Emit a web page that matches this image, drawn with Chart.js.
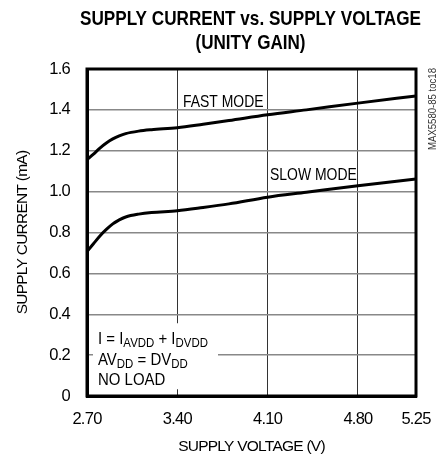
<!DOCTYPE html>
<html>
<head>
<meta charset="utf-8">
<script src="https://cdn.jsdelivr.net/npm/chart.js@4/dist/chart.umd.min.js"></script>
<style>
  html, body { margin: 0; padding: 0; background: #fff; }
  #chart { display: block; }
</style>
</head>
<body>
<canvas id="chart" width="440" height="457"></canvas>
<script>
const FONT = "'Liberation Sans', Arial, sans-serif";

// supply voltage (V)
const voltage = [2.70, 2.75, 2.80, 2.85, 2.90, 2.95, 3.00, 3.10, 3.20, 3.40, 3.60, 3.80, 4.10, 4.40, 4.80, 5.25];
// supply current (mA)
const fastMode = [1.156, 1.183, 1.213, 1.238, 1.258, 1.273, 1.284, 1.296, 1.303, 1.313, 1.330, 1.348, 1.376, 1.400, 1.433, 1.468];
const slowMode = [0.707, 0.745, 0.783, 0.815, 0.842, 0.862, 0.876, 0.890, 0.898, 0.906, 0.922, 0.940, 0.973, 0.997, 1.029, 1.062];

const xTicks = [2.70, 3.40, 4.10, 4.80, 5.25];
const yTicks = [0, 0.2, 0.4, 0.6, 0.8, 1.0, 1.2, 1.4, 1.6];

const toPoints = (vals) => voltage.map((v, i) => ({ x: v, y: vals[i] }));

// text squeezed sideways, to look like the narrow face of the original
const narrowText = (ctx, x, y, parts, squeeze) => {
  ctx.save();
  ctx.translate(x, y);
  ctx.scale(squeeze, 1);
  let cx = 0;
  parts.forEach(([txt, sub]) => {
    ctx.font = (sub ? '13px ' : '17px ') + FONT;
    ctx.fillText(txt, cx, sub ? 3 : 0);
    cx += ctx.measureText(txt).width;
  });
  ctx.restore();
};

const notes = {
  id: 'notes',
  beforeDraw(chart) {
    // tighter letters everywhere, the original uses a condensed face
    chart.ctx.letterSpacing = '-0.75px';
  },
  beforeDatasetsDraw(chart) {
    const { ctx, chartArea: a, scales: { y } } = chart;
    ctx.save();
    ctx.letterSpacing = '0px';
    // conditions box hides the grid behind it
    ctx.fillStyle = '#fff';
    ctx.fillRect(a.left + 6, y.getPixelForValue(0.4) + 9, 125, 66);
    ctx.fillStyle = '#000';
    ctx.textBaseline = 'alphabetic';
    const tx = a.left + 11;
    narrowText(ctx, tx, 344, [['I = I', false], ['AVDD', true], [' + I', false], ['DVDD', true]], 0.88);
    narrowText(ctx, tx, 364.5, [['AV', false], ['DD', true], [' = DV', false], ['DD', true]], 0.88);
    narrowText(ctx, tx, 385, [['NO LOAD', false]], 0.88);
    ctx.restore();
  },
  afterDatasetsDraw(chart) {
    const { ctx, chartArea: a } = chart;
    ctx.save();
    ctx.letterSpacing = '0px';
    // heavy frame
    ctx.strokeStyle = '#000';
    ctx.lineWidth = 3;
    ctx.strokeRect(a.left, a.top, a.right - a.left, a.bottom - a.top);
    ctx.fillStyle = '#000';
    narrowText(ctx, 183, 107, [['FAST MODE', false]], 0.82);
    narrowText(ctx, 270, 180, [['SLOW MODE', false]], 0.82);
    // title, condensed bold
    ctx.font = 'bold 21px ' + FONT;
    ctx.textAlign = 'center';
    ctx.fillText('SUPPLY CURRENT vs. SUPPLY VOLTAGE', 250.5, 25, 341);
    ctx.fillText('(UNITY GAIN)', 250.5, 49, 110);
    // part code, rotated on the right
    ctx.font = '11px ' + FONT;
    ctx.fillStyle = '#333';
    ctx.translate(433, 68);
    ctx.rotate(-Math.PI / 2);
    ctx.textAlign = 'right';
    ctx.textBaseline = 'middle';
    ctx.fillText('MAX5580-85 toc18', 0, 0, 82);
    ctx.restore();
  },
};

Chart.defaults.font.family = FONT;
Chart.defaults.color = '#000';

const chart = new Chart(document.getElementById('chart').getContext('2d'), {
  type: 'line',
  data: {
    datasets: [
      {
        label: 'FAST MODE',
        data: toPoints(fastMode),
        borderColor: '#000',
        borderWidth: 3,
        pointRadius: 0,
        cubicInterpolationMode: 'monotone',
        fill: false,
      },
      {
        label: 'SLOW MODE',
        data: toPoints(slowMode),
        borderColor: '#000',
        borderWidth: 3,
        pointRadius: 0,
        cubicInterpolationMode: 'monotone',
        fill: false,
      },
    ],
  },
  options: {
    responsive: false,
    animation: false,
    devicePixelRatio: 1,
    layout: { padding: { left: 0, right: 24, top: 69, bottom: 0 } },
    plugins: {
      legend: { display: false },
      tooltip: { enabled: false },
      title: { display: false },
    },
    scales: {
      x: {
        type: 'linear',
        min: 2.7,
        max: 5.25,
        afterBuildTicks: (s) => {
          s.ticks = xTicks.map((v) => ({ value: v }));
        },
        afterFit: (s) => {
          s.height = 61;
          s.paddingLeft = 0;
          s.paddingRight = 0;
        },
        ticks: {
          callback: (v) => v.toFixed(2),
          font: { size: 16.5 },
          padding: 14,
          maxRotation: 0,
        },
        grid: { color: '#333', lineWidth: 1, drawTicks: false },
        border: { color: '#000', width: 3 },
        title: {
          display: true,
          text: 'SUPPLY VOLTAGE (V)',
          font: { size: 15.5 },
          padding: { top: 0, bottom: 1 },
        },
      },
      y: {
        min: 0,
        max: 1.6,
        afterBuildTicks: (s) => {
          s.ticks = yTicks.map((v) => ({ value: v }));
        },
        afterFit: (s) => {
          s.width = 87;
          s.paddingTop = 0;
          s.paddingBottom = 0;
        },
        ticks: {
          callback: (v) => (v === 0 ? '0' : v.toFixed(1)),
          font: { size: 16.5 },
          padding: 17,
        },
        grid: { color: '#888', lineWidth: 1.5, drawTicks: false },
        border: { color: '#000', width: 3 },
        title: {
          display: true,
          text: 'SUPPLY CURRENT (mA)',
          font: { size: 15.5 },
          padding: { top: 13, bottom: 0 },
        },
      },
    },
  },
  plugins: [notes],
});
</script>
</body>
</html>
